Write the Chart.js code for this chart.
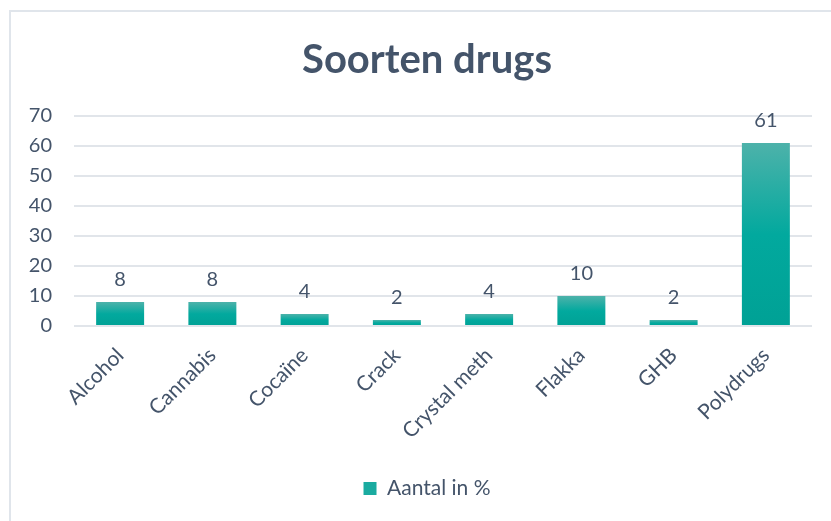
<!DOCTYPE html>
<html>
<head>
<meta charset="utf-8">
<script src="https://cdn.jsdelivr.net/npm/chart.js@4"></script>
<style>
  html, body { margin: 0; padding: 0; background: #fff; overflow: hidden; width: 831px; height: 521px; }
  .frame { position: absolute; left: 9px; top: 10px; width: 840px; height: 540px; border: 2px solid #e0e5eb; box-sizing: border-box; }
  .wrap { position: absolute; left: 0; top: 0; width: 854px; height: 521px; }
</style>
</head>
<body>
<div class="frame"></div>
<div class="wrap"><canvas id="chart"></canvas></div>
<script>
const categories = ['Alcohol', 'Cannabis', 'Cocaïne', 'Crack', 'Crystal meth', 'Flakka', 'GHB', 'Polydrugs'];
const values = [8, 8, 4, 2, 4, 10, 2, 61];
const seriesName = 'Aantal in %';
const textColor = '#44546a';

// gradient per bar, lighter at the top
function barFill(context) {
    const chart = context.chart;
    const y = chart.scales.y;
    if (!chart.chartArea || !y) return '#00a99d';
    const top = y.getPixelForValue(context.raw);
    const bottom = y.getPixelForValue(0);
    if (!isFinite(top) || top === bottom) return '#00a99d';
    const g = chart.ctx.createLinearGradient(0, top, 0, bottom);
    g.addColorStop(0, '#4db2aa');
    g.addColorStop(0.5, '#02a99e');
    g.addColorStop(1, '#00a195');
    return g;
}

// value labels above the bars
const valueLabels = {
    id: 'valueLabels',
    afterDatasetsDraw(chart) {
        const ctx = chart.ctx;
        const meta = chart.getDatasetMeta(0);
        ctx.save();
        ctx.font = '20px Lato';
        ctx.fillStyle = textColor;
        ctx.textAlign = 'center';
        ctx.textBaseline = 'bottom';
        meta.data.forEach((bar, i) => {
            ctx.fillText(String(values[i]), bar.x, bar.y - 12);
        });
        ctx.restore();
    }
};

new Chart(document.getElementById('chart').getContext('2d'), {
    type: 'bar',
    data: {
        labels: categories,
        datasets: [{
            label: seriesName,
            data: values,
            backgroundColor: barFill,
            barPercentage: 0.52,
            categoryPercentage: 1
        }]
    },
    options: {
        responsive: true,
        maintainAspectRatio: false,
        animation: false,
        layout: { padding: { left: 0, right: 0, top: 10, bottom: 12 } },
        plugins: {
            title: {
                display: true,
                text: 'Soorten drugs',
                color: textColor,
                font: { family: 'Lato', size: 40, weight: 'bold' },
                padding: { top: 26, bottom: 32 }
            },
            legend: {
                position: 'bottom',
                labels: {
                    color: textColor,
                    font: { family: 'Lato', size: 21 },
                    boxWidth: 13,
                    boxHeight: 13,
                    padding: 10,
                    generateLabels: () => [{
                        text: seriesName,
                        fillStyle: '#1aaba0',
                        strokeStyle: 'rgba(0,0,0,0)',
                        lineWidth: 0,
                        fontColor: textColor,
                        datasetIndex: 0
                    }]
                }
            },
            tooltip: { enabled: false }
        },
        scales: {
            x: {
                grid: { display: false },
                border: { display: false },
                ticks: {
                    color: textColor,
                    font: { family: 'Lato', size: 21 },
                    minRotation: 45,
                    maxRotation: 45,
                    padding: 9
                },
                afterFit(scale) { scale.height = 142; }
            },
            y: {
                min: 0,
                max: 70,
                grid: { color: '#e1e5ea', lineWidth: 2, drawTicks: false },
                border: { display: false },
                ticks: {
                    stepSize: 10,
                    color: textColor,
                    font: { family: 'Lato', size: 20 },
                    padding: 22
                },
                afterFit(scale) { scale.width = 74; }
            },
            // empty spacer on the right so title and legend sit centred like the original
            spacer: {
                position: 'right',
                min: 0,
                max: 1,
                grid: { display: false },
                border: { display: false },
                ticks: { display: false },
                afterFit(scale) { scale.width = 42; }
            }
        }
    },
    plugins: [valueLabels]
});
</script>
</body>
</html>
